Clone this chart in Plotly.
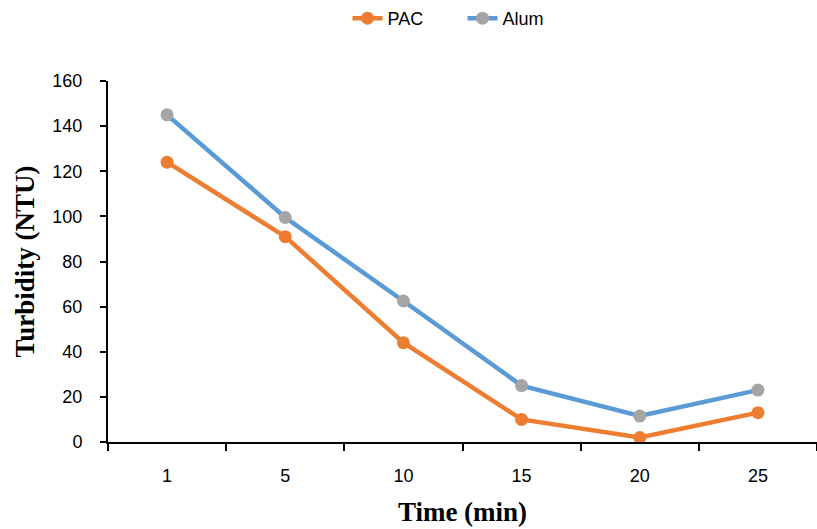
import plotly.graph_objects as go

categories = ["1", "5", "10", "15", "20", "25"]
pac = [124, 91, 44, 10, 2, 13]
alum = [145, 99.5, 62.5, 25, 11.5, 23]
y_ticks = [0, 20, 40, 60, 80, 100, 120, 140, 160]

fig = go.Figure()
fig.add_trace(go.Scatter(
    x=categories, y=pac, name="PAC", mode="lines+markers",
    line=dict(color="#ED7D31", width=4.5),
    marker=dict(color="#ED7D31", size=13),
))
fig.add_trace(go.Scatter(
    x=categories, y=alum, name="Alum", mode="lines+markers",
    line=dict(color="#5B9BD5", width=4.5),
    marker=dict(color="#A5A5A5", size=13),
))

tick_font = dict(family="Liberation Sans, Arial", size=18, color="#000")
title_font = dict(family="Liberation Serif, Times New Roman", size=27, color="#000")

fig.update_layout(
    width=817, height=529,
    margin=dict(l=108, r=0, t=81, b=87),
    paper_bgcolor="white", plot_bgcolor="white",
    font=dict(family="Liberation Sans, Arial", size=16, color="#000000"),
    showlegend=True,
    legend=dict(orientation="h", x=0.5, xanchor="center", y=1.0, yanchor="top",
                yref="container", font=dict(size=18, color="#000"),
                entrywidth=70, entrywidthmode="pixels",
                traceorder="normal"),
    xaxis=dict(
        type="category", range=[-0.5, 5.5], tickson="boundaries",
        ticks="outside", ticklen=7, tickwidth=1.5, tickcolor="#000",
        showline=True, linecolor="#000", linewidth=2, tickfont=tick_font,
        showgrid=False, zeroline=False, ticklabelstandoff=16,
        title=dict(text="<b>Time (min)</b>", standoff=18, font=title_font),
    ),
    yaxis=dict(
        range=[0, 160], tickvals=y_ticks,
        ticks="outside", ticklen=6, tickwidth=1.5, tickcolor="#000",
        showline=True, linecolor="#000", linewidth=2, tickfont=tick_font,
        showgrid=False, zeroline=False, ticklabelstandoff=14,
        title=dict(text="<b>Turbidity (NTU)</b>", standoff=10, font=title_font),
    ),
)

fig.write_html("out.html")
